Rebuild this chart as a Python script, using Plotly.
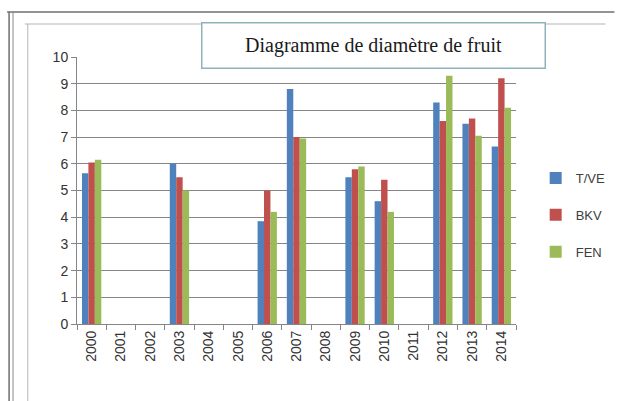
import plotly.graph_objects as go

# Fruit diameter per year for three varieties
years = ["2000", "2001", "2002", "2003", "2004", "2005", "2006", "2007",
         "2008", "2009", "2010", "2011", "2012", "2013", "2014"]
tve = [5.65, None, None, 6.0, None, None, 3.85, 8.8, None, 5.5, 4.6, None, 8.3, 7.5, 6.65]
bkv = [6.05, None, None, 5.5, None, None, 5.0, 7.0, None, 5.8, 5.4, None, 7.6, 7.7, 9.2]
fen = [6.15, None, None, 5.0, None, None, 4.2, 6.95, None, 5.9, 4.2, None, 9.3, 7.05, 8.1]
y_ticks = list(range(0, 11))

W, H = 623, 401
L, R, T, B = 77, 100, 57, 77
PW, PH = W - L - R, H - T - B


def px(x):
    return (x - L) / PW


def py(y):
    return (H - B - y) / PH


series = [("T/VE", tve, "#4F81BD"), ("BKV", bkv, "#C0504D"), ("FEN", fen, "#9BBB59")]

fig = go.Figure()
for name, vals, col in series:
    fig.add_trace(go.Bar(x=years, y=vals, name=name, marker_color=col,
                         marker_line_width=0, legendgroup=name))

grid = "#858585"
fig.update_layout(
    width=W, height=H,
    margin=dict(l=L, r=R, t=T, b=B),
    paper_bgcolor="white", plot_bgcolor="white",
    barmode="group", bargap=0.34, bargroupgap=0,
    showlegend=True,
    legend=dict(x=px(543), y=py(163), xanchor="left", yanchor="top",
                font=dict(family="Liberation Sans, Arial", size=13, color="#404040"),
                itemwidth=30, tracegroupgap=17, bgcolor="rgba(0,0,0,0)"),
    font=dict(family="Liberation Sans, Arial", color="#404040"),
    xaxis=dict(type="category", tickangle=-90, ticks="outside", tickson="boundaries",
               ticklen=5, tickcolor=grid, showline=True, linecolor=grid, linewidth=1,
               showgrid=False, tickfont=dict(size=14, color="#333333")),
    yaxis=dict(range=[0, 10], tickvals=y_ticks, ticks="outside", ticklen=5,
               tickcolor=grid, showline=True, linecolor=grid, linewidth=1,
               showgrid=True, gridcolor=grid, gridwidth=1.2, zeroline=False,
               tickfont=dict(size=14, color="#333333")),
)

# page frame lines and the chart border
frame = [
    dict(x0=px(6), x1=px(623), y0=py(12), y1=py(12), color="#6f6f6f", w=1.5),
    dict(x0=px(8), x1=px(8), y0=py(12), y1=py(401), color="#6f6f6f", w=1.5),
    dict(x0=px(12), x1=px(12), y0=py(12), y1=py(401), color="#8a8a8a", w=1),
    dict(x0=px(24), x1=px(614), y0=py(24), y1=py(24), color="#b5b5b5", w=1),
    dict(x0=px(27), x1=px(27), y0=py(24), y1=py(401), color="#b5b5b5", w=1),
]
for f in frame:
    fig.add_shape(type="line", xref="paper", yref="paper", x0=f["x0"], x1=f["x1"],
                  y0=f["y0"], y1=f["y1"], line=dict(color=f["color"], width=f["w"]),
                  layer="above")

fig.add_annotation(
    text="Diagramme de diamètre de fruit",
    xref="paper", yref="paper", x=px(378), y=py(46), xanchor="center", yanchor="middle",
    showarrow=False, font=dict(family="Liberation Serif, Times New Roman", size=20, color="#1a1a1a"),
    bgcolor="white", bordercolor="#8fb3bd", borderwidth=1.5, borderpad=2,
    width=338, height=40,
)

fig.write_html("out.html")
